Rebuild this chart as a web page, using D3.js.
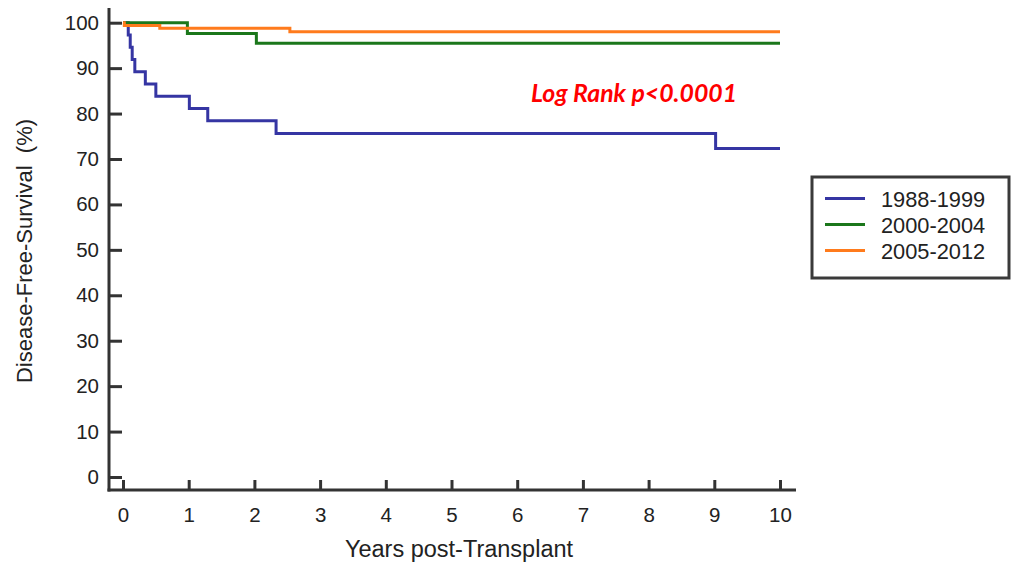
<!DOCTYPE html>
<html lang="en">
<head>
  <meta charset="utf-8" />
  <title>Disease-Free-Survival by era</title>
  <script src="https://cdnjs.cloudflare.com/ajax/libs/d3/7.8.5/d3.min.js"></script>
  <style>
    body { margin: 0; background: #fff; }
    svg { display: block; font-family: "Liberation Sans", Arial, sans-serif; }
    .tick text { fill: #222; }
  </style>
</head>
<body>
<svg id="chart" width="1011" height="563"></svg>
<script>
  // Kaplan-Meier steps (years, % surviving)
  const years8899 = [0, 0.08, 0.11, 0.14, 0.18, 0.34, 0.5, 1.01, 1.29, 2.33, 9.02, 10];
  const surv8899  = [100, 97.3, 94.6, 91.9, 89.2, 86.5, 83.8, 81.1, 78.4, 75.6, 72.3, 72.3];
  const years0004 = [0, 0.98, 2.03, 10];
  const surv0004  = [100, 97.6, 95.5, 95.5];
  const years0512 = [0, 0.02, 0.56, 2.54, 10];
  const surv0512  = [100, 99.4, 98.8, 98.0, 98.0];

  const seriesNames = ["1988-1999", "2000-2004", "2005-2012"];
  const seriesColors = ["#3535a3", "#1b771b", "#ff7b1c"];
  const xTicks = [0, 1, 2, 3, 4, 5, 6, 7, 8, 9, 10];
  const yTicks = [0, 10, 20, 30, 40, 50, 60, 70, 80, 90, 100];

  const series = [
    { name: seriesNames[0], color: seriesColors[0], pts: years8899.map((t, i) => [t, surv8899[i]]) },
    { name: seriesNames[1], color: seriesColors[1], pts: years0004.map((t, i) => [t, surv0004[i]]) },
    { name: seriesNames[2], color: seriesColors[2], pts: years0512.map((t, i) => [t, surv0512[i]]) }
  ];

  const svg = d3.select("#chart");

  // frame of the plot
  const axisX = 109, axisY = 490, axisTop = 8, axisRight = 796;

  const x = d3.scaleLinear().domain([0, 10]).range([123, 780]);
  const y = d3.scaleLinear().domain([0, 100]).range([477, 22.7]);

  // y axis, ticks pointing inward
  const gy = svg.append("g")
    .attr("transform", "translate(" + axisX + ",0)")
    .call(d3.axisLeft(y).tickValues(yTicks).tickSizeInner(-13).tickSizeOuter(0).tickPadding(10));
  gy.select(".domain").remove();
  gy.selectAll(".tick line").attr("stroke", "#333").attr("stroke-width", 3);
  gy.selectAll(".tick text").attr("font-size", 20.5).attr("font-family", "Liberation Sans, Arial, sans-serif");

  const gx = svg.append("g")
    .attr("transform", "translate(0," + axisY + ")")
    .call(d3.axisBottom(x).tickValues(xTicks).tickSizeInner(-10).tickSizeOuter(0).tickPadding(17));
  gx.select(".domain").remove();
  gx.selectAll(".tick line").attr("stroke", "#333").attr("stroke-width", 3);
  gx.selectAll(".tick text").attr("font-size", 20.5).attr("font-family", "Liberation Sans, Arial, sans-serif");

  svg.append("line")
    .attr("x1", axisX).attr("x2", axisX).attr("y1", axisTop).attr("y2", axisY + 1.5)
    .attr("stroke", "#333").attr("stroke-width", 3);
  svg.append("line")
    .attr("x1", axisX - 1.5).attr("x2", axisRight).attr("y1", axisY).attr("y2", axisY)
    .attr("stroke", "#333").attr("stroke-width", 3);

  // survival curves
  const line = d3.line()
    .x(d => x(d[0]))
    .y(d => y(d[1]))
    .curve(d3.curveStepAfter);

  svg.selectAll("path.km")
    .data(series)
    .enter()
    .append("path")
    .attr("class", "km")
    .attr("d", d => line(d.pts))
    .attr("fill", "none")
    .attr("stroke", d => d.color)
    .attr("stroke-width", 3);

  // axis titles
  svg.append("text")
    .attr("x", 459).attr("y", 557)
    .attr("text-anchor", "middle")
    .attr("font-size", 23.5)
    .attr("fill", "#222")
    .text("Years post-Transplant");

  svg.append("text")
    .attr("transform", "translate(32,251) rotate(-90)")
    .attr("text-anchor", "middle")
    .attr("font-size", 22)
    .attr("fill", "#222")
    .style("white-space", "pre")
    .text("Disease-Free-Survival  (%)");

  // annotation
  svg.append("text")
    .attr("x", 531).attr("y", 102)
    .attr("font-family", "Lato, 'Open Sans', sans-serif")
    .attr("font-weight", "bold")
    .attr("font-style", "italic")
    .attr("font-size", 24.8)
    .attr("fill", "#ff0000")
    .text("Log Rank p<0.0001");

  // legend
  const lg = svg.append("g");
  lg.append("rect")
    .attr("x", 812).attr("y", 177).attr("width", 197).attr("height", 101)
    .attr("fill", "#fff").attr("stroke", "#3a3a3a").attr("stroke-width", 3);
  series.forEach(function(s, i) {
    const ly = 198.5 + i * 26;
    lg.append("line")
      .attr("x1", 825).attr("x2", 865).attr("y1", ly).attr("y2", ly)
      .attr("stroke", s.color).attr("stroke-width", 3);
    lg.append("text")
      .attr("x", 881).attr("y", ly + 8)
      .attr("font-size", 21.8)
      .attr("fill", "#222")
      .text(s.name);
  });
</script>
</body>
</html>
